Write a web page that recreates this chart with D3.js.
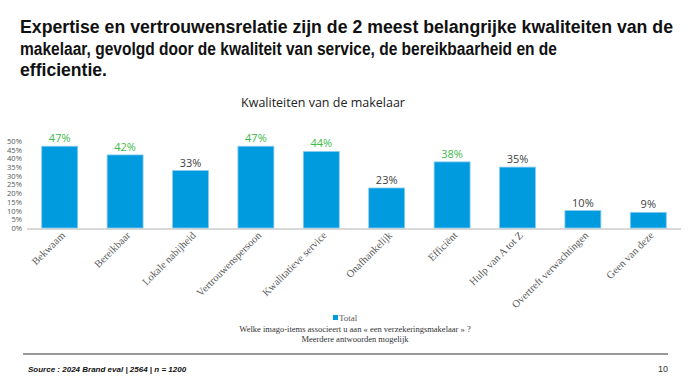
<!DOCTYPE html>
<html>
<head>
<meta charset="utf-8">
<script src="https://cdn.jsdelivr.net/npm/d3@7"></script>
<style>
  body { margin: 0; background: #fff; }
  svg { display: block; }
</style>
</head>
<body>
<svg></svg>
<script>
// chart data
var categories = ["Bekwaam", "Bereikbaar", "Lokale nabijheid", "Vertrouwenspersoon",
    "Kwalitatieve service", "Onafhankelijk", "Efficiënt", "Hulp van A tot Z",
    "Overtreft verwachtingen", "Geen van deze"];
var totals = [47, 42, 33, 47, 44, 23, 38, 35, 10, 9];
var yTicks = [0, 5, 10, 15, 20, 25, 30, 35, 40, 45, 50];
var titleLines = [
  "Expertise en vertrouwensrelatie zijn de 2 meest belangrijke kwaliteiten van de",
  "makelaar, gevolgd door de kwaliteit van service, de bereikbaarheid en de",
  "efficientie."
];

var width = 695, height = 382;

var svg = d3.select("svg")
    .attr("width", width)
    .attr("height", height);

// headline
var titleWidths = [653, 537, 87];
svg.append("g").selectAll("text")
  .data(titleLines)
  .join("text")
    .attr("x", 20)
    .attr("y", function(d, i) { return 33 + i * 21.5; })
    .attr("textLength", function(d, i) { return titleWidths[i]; })
    .attr("lengthAdjust", "spacingAndGlyphs")
    .attr("font-family", "'Liberation Sans Narrow', 'Liberation Sans', Arial, sans-serif")
    .attr("font-weight", "bold")
    .attr("font-size", 18)
    .attr("fill", "#111")
    .text(function(d) { return d; });

svg.append("text")
    .attr("x", 323)
    .attr("y", 107)
    .attr("text-anchor", "middle")
    .attr("font-family", "'Open Sans', sans-serif")
    .attr("font-size", 12.5)
    .attr("fill", "#222")
    .text("Kwaliteiten van de makelaar");

var x = d3.scaleBand()
    .domain(categories)
    .range([27, 681])
    .paddingInner(0.45)
    .paddingOuter(0.225);

var y = d3.scaleLinear()
    .domain([0, 50])
    .range([228, 141]);

// top five get the green label
var topFive = totals.slice().sort(d3.descending)[4];

var yAxis = d3.axisLeft(y)
    .tickValues(yTicks)
    .tickFormat(function(d) { return d + "%"; })
    .tickSize(0)
    .tickPadding(0);

var gY = svg.append("g")
    .attr("transform", "translate(22,0)")
    .call(yAxis);
gY.select(".domain").remove();
gY.selectAll("text")
    .attr("font-family", "'Open Sans', sans-serif")
    .attr("font-size", 7.6)
    .attr("fill", "#595959");

// baseline
svg.append("line")
    .attr("x1", 27).attr("x2", 681)
    .attr("y1", y(0) + 1).attr("y2", y(0) + 1)
    .attr("stroke", "#d9d9d9")
    .attr("stroke-width", 2);

svg.append("g").selectAll("rect")
  .data(totals)
  .join("rect")
    .attr("x", function(d, i) { return x(categories[i]); })
    .attr("y", function(d) { return y(d); })
    .attr("width", x.bandwidth())
    .attr("height", function(d) { return y(0) - y(d); })
    .attr("fill", "#009bdf")
    .attr("stroke", "#8ccbf0")
    .attr("stroke-width", 0.8);

svg.append("g").selectAll("text")
  .data(totals)
  .join("text")
    .attr("x", function(d, i) { return x(categories[i]) + x.bandwidth() / 2; })
    .attr("y", function(d) { return y(d) - 4; })
    .attr("text-anchor", "middle")
    .attr("font-family", "'Open Sans', sans-serif")
    .attr("font-size", 11)
    .attr("fill", function(d) { return d >= topFive ? "#3cb94a" : "#404040"; })
    .text(function(d) { return d + "%"; });

var xAxis = d3.axisBottom(x).tickSize(0).tickPadding(0);
var gX = svg.append("g")
    .attr("transform", "translate(0," + y(0) + ")")
    .call(xAxis);
gX.select(".domain").remove();
gX.selectAll("text")
    .attr("font-family", "'Liberation Serif', serif")
    .attr("font-size", 10.5)
    .attr("fill", "#595959")
    .attr("text-anchor", "end")
    .attr("dy", null)
    .attr("transform", "translate(6,8) rotate(-45)");

// legend
svg.append("rect")
    .attr("x", 333).attr("y", 315)
    .attr("width", 5).attr("height", 5)
    .attr("fill", "#009bdf");
svg.append("text")
    .attr("x", 339).attr("y", 321)
    .attr("font-family", "'Liberation Serif', serif")
    .attr("font-size", 9)
    .attr("fill", "#595959")
    .text("Total");

svg.append("text")
    .attr("x", 355).attr("y", 332)
    .attr("text-anchor", "middle")
    .attr("font-family", "'Liberation Serif', serif")
    .attr("font-size", 8.5)
    .attr("fill", "#333")
    .text("Welke imago-items associeert u aan « een verzekeringsmakelaar » ?");
svg.append("text")
    .attr("x", 355).attr("y", 342)
    .attr("text-anchor", "middle")
    .attr("font-family", "'Liberation Serif', serif")
    .attr("font-size", 8.5)
    .attr("fill", "#333")
    .text("Meerdere antwoorden mogelijk");

// footer
svg.append("line")
    .attr("x1", 23).attr("x2", 668)
    .attr("y1", 354).attr("y2", 354)
    .attr("stroke", "#777")
    .attr("stroke-width", 1.5);

svg.append("text")
    .attr("x", 28).attr("y", 372)
    .attr("font-family", "'Liberation Sans', Arial, sans-serif")
    .attr("font-weight", "bold")
    .attr("font-style", "italic")
    .attr("font-size", 8)
    .attr("fill", "#111")
    .text("Source : 2024 Brand eval | 2564 | n = 1200");

svg.append("text")
    .attr("x", 668).attr("y", 372)
    .attr("text-anchor", "end")
    .attr("font-family", "'Liberation Sans', Arial, sans-serif")
    .attr("font-size", 9)
    .attr("fill", "#333")
    .text("10");
</script>
</body>
</html>
